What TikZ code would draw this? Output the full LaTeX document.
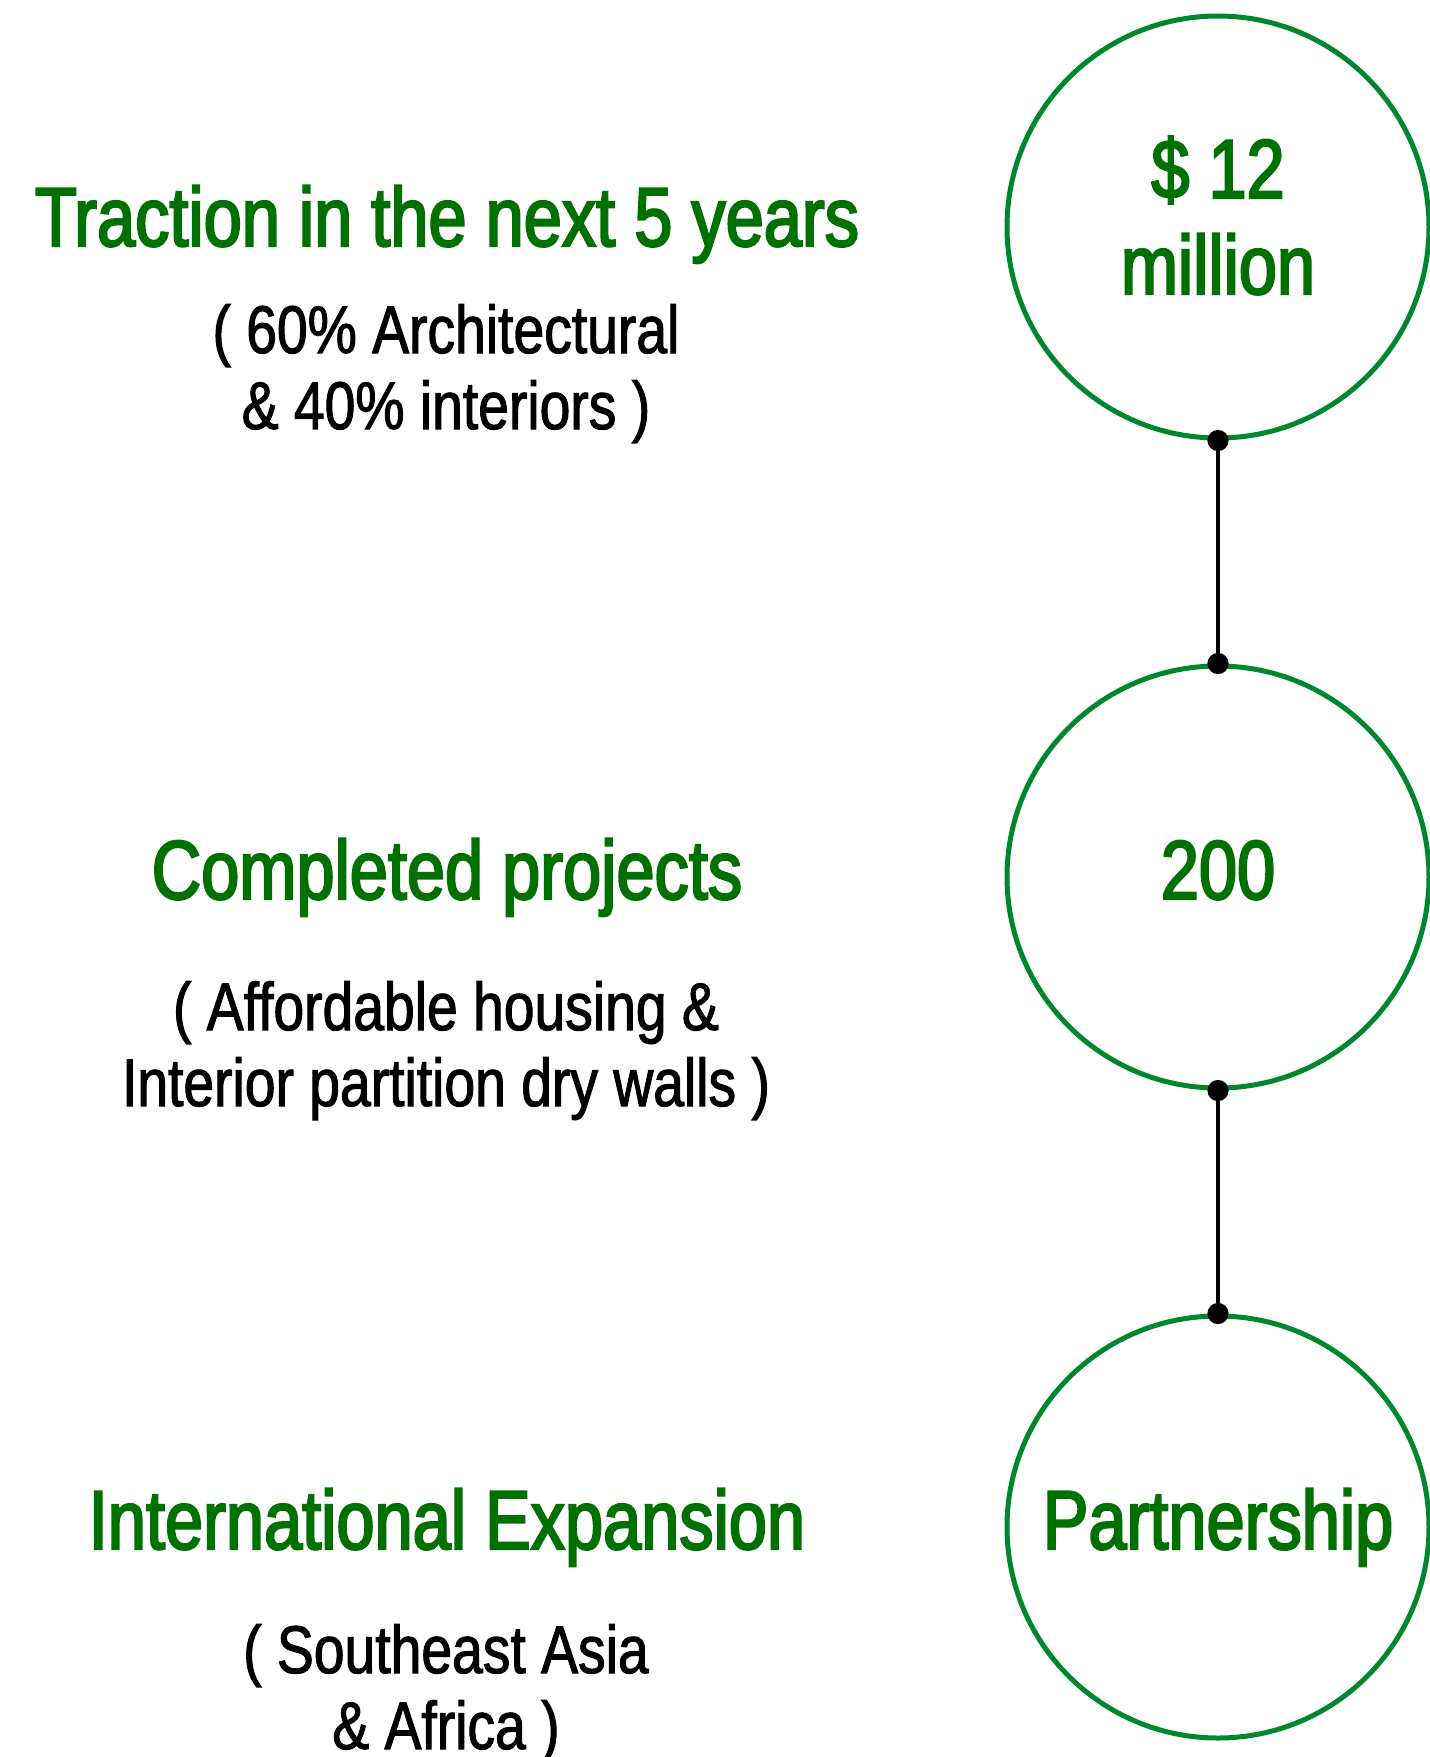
\documentclass[tikz,border=0pt]{standalone}
\usepackage{fontspec}
\setmainfont[FakeStretch=0.82,FakeBold=1.6]{Liberation Sans}
\newfontfamily\headfont[FakeStretch=0.82,FakeBold=2.6]{Liberation Sans}
\usepackage{tikz}

\definecolor{headgreen}{RGB}{0,112,0}
\definecolor{ringgreen}{RGB}{0,134,44}

\tikzset{
    head/.style={anchor=base,text=headgreen,font=\headfont\fontsize{41.8}{48}\selectfont},
    note/.style={anchor=base,align=center,font=\fontsize{33.7}{38}\selectfont},
    ring/.style={circle,draw=ringgreen,line width=2.5pt,minimum size=211pt,inner sep=0pt},
    link/.style={line width=2pt}
}

\begin{document}
\begin{tikzpicture}[x=0.5pt,y=-0.5pt]
    \useasboundingbox (0,0) rectangle (1430,1757);

    \node[ring] (r1) at (1218,227) {};
    \node[ring] (r2) at (1218,877) {};
    \node[ring] (r3) at (1218,1527) {};

    % base of a two-line node is its last line
    \node[head] (h1) at (447,246) {Traction in the next 5 years};
    \node[note] (n1) at (446,429) {( 60\% Architectural\\\& 40\% interiors )};
    \node[head] (h2) at (447,899) {Completed projects};
    \node[note] (n2) at (446,1106) {( Affordable housing \&\\Interior partition dry walls )};
    \node[head] (h3) at (447,1549) {International Expansion};
    \node[note] (n3) at (446,1749) {( Southeast Asia\\\& Africa )};

    \node[head,align=center] (v1) at (1218,294) {\$ 12\\million};
    \node[head] (v2) at (1218,899) {200};
    \node[head] (v3) at (1218,1549) {Partnership};

    % links between the rings
    \draw[link] (r1.south) -- (r2.north);
    \draw[link] (r2.south) -- (r3.north);
    \foreach \r in {r1.south,r2.north,r2.south,r3.north}
        \fill (\r) circle (5.3pt);
\end{tikzpicture}
\end{document}
